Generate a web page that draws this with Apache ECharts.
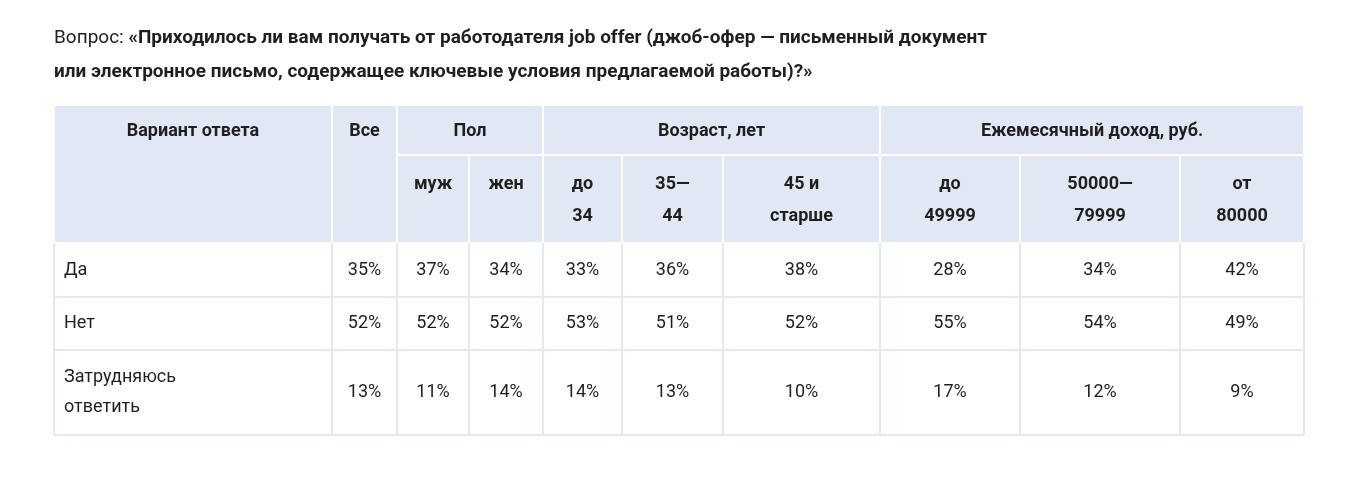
<!DOCTYPE html>
<html><head><meta charset="utf-8">
<script src="https://cdn.jsdelivr.net/npm/echarts@6/dist/echarts.min.js"></script>
<style>html,body{margin:0;background:#fff}#c{width:1360px;height:479px}</style>
</head><body><div id="c"></div>
<script>
const questionLabel = 'Вопрос: ';
const questionLines = ['«Приходилось ли вам получать от работодателя job offer (джоб-офер — письменный документ', 'или электронное письмо, содержащее ключевые условия предлагаемой работы)?»'];
const groupHeaders = [
  {name: 'Вариант ответа', span: 1, first: 0},
  {name: 'Все', span: 1, first: 1},
  {name: 'Пол', span: 2, first: 2},
  {name: 'Возраст, лет', span: 3, first: 4},
  {name: 'Ежемесячный доход, руб.', span: 3, first: 7}
];
const subHeaders = ['', '', 'муж', 'жен', 'до\n34', '35—\n44', '45 и\nстарше', 'до\n49999', '50000—\n79999', 'от\n80000'];
const answers = ['Да', 'Нет', 'Затрудняюсь\nответить'];
const valuesYes = ['35%','37%','34%','33%','36%','38%','28%','34%','42%'];
const valuesNo = ['52%','52%','52%','53%','51%','52%','55%','54%','49%'];
const valuesHard = ['13%','11%','14%','14%','13%','10%','17%','12%','9%'];
const rows = [valuesYes, valuesNo, valuesHard];

const colX = [54, 332, 397, 469, 543, 622, 723, 880, 1020, 1180, 1304];
const hY = [105, 155, 243];
const rowY = [243, 297, 350, 435];
const HB = '#e1e8f3', LINE = '#e2e9f3', TXT = '#1f1f1f';
const F = 'Roboto, "Noto Sans", sans-serif';
function st(o, bold){ return Object.assign({fontFamily:F, fontSize:19, fontWeight: bold?'bold':'normal', fill:TXT}, o); }

const g = [];
g.push({type:'text', x:54, y:38, style:st({text:'{n|'+questionLabel+'}{b|'+questionLines[0]+'}', verticalAlign:'middle',
  rich:{n:{fontFamily:F,fontSize:19,fill:TXT,color:TXT}, b:{fontFamily:F,fontSize:19,fontWeight:'bold',fill:TXT,color:TXT}}})});
g.push({type:'text', x:54, y:72, style:st({text:questionLines[1], verticalAlign:'middle'}, true)});

function cell(x0,x1,y0,y1){ g.push({type:'rect', shape:{x:x0+1,y:y0+1,width:x1-x0-2,height:y1-y0-2}, style:{fill:HB}}); }
groupHeaders.forEach(h=>{
  const x0 = colX[h.first], x1 = colX[h.first+h.span];
  const tall = h.span===1;
  cell(x0,x1,hY[0], tall? hY[2] : hY[1]);
  g.push({type:'text', x:(x0+x1)/2, y:131, style:st({text:h.name, fontSize:18, align:'center', verticalAlign:'middle'}, true)});
  if(!tall){
    for(let k=h.first;k<h.first+h.span;k++){
      cell(colX[k],colX[k+1],hY[1],hY[2]);
      g.push({type:'text', x:(colX[k]+colX[k+1])/2, y:168, style:st({text:subHeaders[k], fontSize:18, align:'center', verticalAlign:'top', lineHeight:32}, true)});
    }
  }
});
const x0=colX[0], x1=colX[colX.length-1];
rowY.slice(1).forEach(y=>g.push({type:'line', shape:{x1:x0,y1:y,x2:x1,y2:y}, style:{stroke:LINE, lineWidth:2}}));
colX.forEach(x=>g.push({type:'line', shape:{x1:x,y1:rowY[0],x2:x,y2:rowY[3]}, style:{stroke:LINE, lineWidth:2}}));
answers.forEach((a,r)=>{
  const cy=(rowY[r]+rowY[r+1])/2;
  g.push({type:'text', x:64, y:cy, style:st({text:a, fontSize:18, verticalAlign:'middle', lineHeight:30})});
  rows[r].forEach((v,c)=>{
    g.push({type:'text', x:(colX[c+1]+colX[c+2])/2, y:cy, style:st({text:v, fontSize:18, align:'center', verticalAlign:'middle'})});
  });
});
const chart = echarts.init(document.getElementById('c'));
chart.setOption({animation:false, graphic:g});
</script></body></html>
